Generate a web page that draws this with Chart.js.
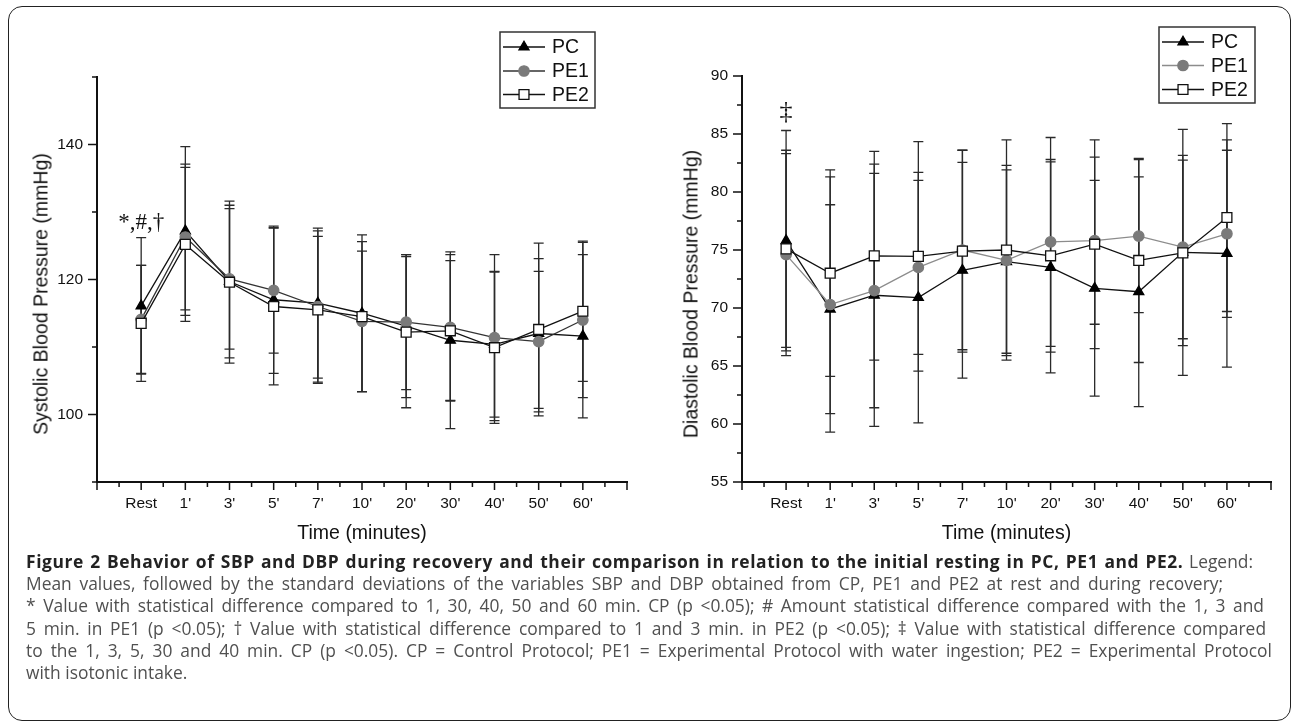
<!DOCTYPE html>
<html>
<head>
<meta charset="utf-8">
<script src="https://cdn.jsdelivr.net/npm/chart.js@4.4.0/dist/chart.umd.min.js"></script>
<style>
  body { margin: 0; background: #fff; }
  #page { position: relative; width: 1292px; height: 723px; overflow: hidden; background: #fff; }
  .frame { position: absolute; left: 8px; top: 6px; width: 1283px; height: 715px; border: 1.5px solid #222; border-radius: 14px; box-sizing: border-box; }
  .chartBox { position: absolute; top: 0; width: 646px; height: 550px; }
  .ytitle { position: absolute; font: 19.5px 'Liberation Sans', Arial, sans-serif; color: #111; white-space: nowrap; transform: translate(-50%, -50%) rotate(-90deg); }
  #caption { position: absolute; left: 26px; top: 550px; font: 17.4px 'Open Sans', sans-serif; line-height: 22.2px; color: #505050; }
  #caption div { white-space: nowrap; }
  #caption b { color: #222; letter-spacing: 0.6px; }
</style>
</head>
<body>
<div id="page">
  <div class="frame"></div>
  <div class="chartBox" style="left:0"><canvas id="sbpChart"></canvas></div>
  <div class="chartBox" style="left:646px"><canvas id="dbpChart"></canvas></div>
  <div class="ytitle" style="left:41px; top:294px">Systolic Blood Pressure (mmHg)</div>
  <div class="ytitle" style="left:691px; top:294px">Diastolic Blood Pressure (mmHg)</div>
  <div id="caption"></div>
</div>
<script>
'use strict';

// ---------------- data ----------------
const timeLabels = ['Rest', "1'", "3'", "5'", "7'", "10'", "20'", "30'", "40'", "50'", "60'"];

// systolic (mmHg) mean and standard deviation
const sbpPC = [116.1, 127.2, 119.7, 117.0, 116.5, 115.0, 113.1, 111.0, 110.4, 112.0, 111.6];
const sbpPCsd = [10.1, 12.5, 11.3, 10.9, 11.1, 11.6, 10.6, 13.1, 10.8, 11.1, 12.1];
const sbpPE1 = [114.1, 126.3, 120.1, 118.4, 116.0, 113.8, 113.7, 112.9, 111.4, 110.8, 114.0];
const sbpPE1sd = [8.0, 10.8, 10.4, 9.3, 11.2, 10.4, 10.0, 10.8, 12.3, 10.4, 11.5];
const sbpPE2 = [113.5, 125.2, 119.6, 116.0, 115.5, 114.5, 112.2, 112.4, 109.9, 112.6, 115.3];
const sbpPE2sd = [8.6, 11.4, 12.0, 11.6, 10.9, 11.1, 11.2, 10.4, 11.2, 12.8, 10.4];

// diastolic (mmHg) mean and standard deviation
const dbpPC = [75.8, 69.9, 71.1, 70.9, 73.25, 74.0, 73.5, 71.7, 71.4, 74.8, 74.7];
const dbpPCsd = [9.5, 9.0, 11.3, 10.8, 9.3, 7.9, 9.1, 9.3, 9.9, 10.6, 9.8];
const dbpPE1 = [74.6, 70.3, 71.5, 73.5, 75.0, 74.1, 75.7, 75.8, 76.2, 75.25, 76.4];
const dbpPE1sd = [8.7, 11.0, 10.1, 7.5, 8.6, 8.2, 9.0, 7.2, 6.6, 7.9, 7.2];
const dbpPE2 = [75.1, 73.0, 74.5, 74.45, 74.9, 75.0, 74.5, 75.5, 74.1, 74.75, 77.8];
const dbpPE2sd = [8.5, 8.9, 9.0, 9.9, 8.7, 9.5, 8.3, 9.0, 8.8, 8.0, 8.1];

const seriesNames = ['PC', 'PE1', 'PE2'];
const sbpTicks = [100, 120, 140];
const dbpTicks = [55, 60, 65, 70, 75, 80, 85, 90];

const captionLines = [
  '<b>Figure 2 Behavior of SBP and DBP during recovery and their comparison in relation to the initial resting in PC, PE1 and PE2.</b> Legend:',
  'Mean values, followed by the standard deviations of the variables SBP and DBP obtained from CP, PE1 and PE2 at rest and during recovery;',
  '* Value with statistical difference compared to 1, 30, 40, 50 and 60 min. CP (p &lt;0.05); # Amount statistical difference compared with the 1, 3 and',
  '5 min. in PE1 (p &lt;0.05); † Value with statistical difference compared to 1 and 3 min. in PE2 (p &lt;0.05); ‡ Value with statistical difference compared',
  'to the 1, 3, 5, 30 and 40 min. CP (p &lt;0.05). CP = Control Protocol; PE1 = Experimental Protocol with water ingestion; PE2 = Experimental Protocol',
  'with isotonic intake.'
];
// right edge of each caption line (null = leave natural)
const captionEnds = [1253, 1223, 1264, 1266, 1272, null];

// ---------------- helpers ----------------
const AXIS_FONT = "'Liberation Sans', Arial, sans-serif";

function toPoints(arr) {
  return arr.map((v, i) => ({ x: i, y: v }));
}

function drawMarker(ctx, style, x, y, r) {
  ctx.beginPath();
  if (style === 'triangle') {
    let rad = 0;
    for (let k = 0; k < 3; k++) {
      const px = x + Math.sin(rad) * r, py = y - Math.cos(rad) * r;
      if (k === 0) ctx.moveTo(px, py); else ctx.lineTo(px, py);
      rad += Math.PI * 2 / 3;
    }
    ctx.closePath();
  } else if (style === 'rect') {
    const s = Math.SQRT1_2 * r;
    ctx.rect(x - s, y - s, 2 * s, 2 * s);
  } else {
    ctx.arc(x, y, r, 0, Math.PI * 2);
  }
  ctx.fill();
  ctx.stroke();
}

// error bars, drawn under the lines
const errorBarPlugin = {
  id: 'errorBars',
  beforeDatasetsDraw(chart) {
    const ctx = chart.ctx;
    const xs = chart.scales.x, ys = chart.scales.y;
    ctx.save();
    ctx.strokeStyle = '#2a2a2a';
    ctx.lineWidth = 1.3;
    for (const ds of chart.data.datasets) {
      ds.sd.forEach((sd, i) => {
        const m = ds.data[i].y;
        const px = xs.getPixelForValue(i);
        const top = ys.getPixelForValue(m + sd);
        const bot = ys.getPixelForValue(m - sd);
        ctx.beginPath();
        ctx.moveTo(px, top); ctx.lineTo(px, bot);
        ctx.moveTo(px - 5, top); ctx.lineTo(px + 5, top);
        ctx.moveTo(px - 5, bot); ctx.lineTo(px + 5, bot);
        ctx.stroke();
      });
    }
    ctx.restore();
  }
};

// major / minor tick marks on both axes
const tickMarkPlugin = {
  id: 'tickMarks',
  afterDraw(chart, args, opts) {
    const { ctx, chartArea } = chart;
    const xs = chart.scales.x, ys = chart.scales.y;
    ctx.save();
    ctx.strokeStyle = '#111';
    ctx.lineWidth = 1.5;
    ctx.beginPath();
    for (let v = xs.min; v <= xs.max + 1e-9; v += 0.5) {
      const px = xs.getPixelForValue(v);
      const len = Number.isInteger(v) ? 8 : 5;
      ctx.moveTo(px, chartArea.bottom); ctx.lineTo(px, chartArea.bottom + len);
    }
    for (let v = ys.min; v <= ys.max + 1e-9; v += opts.minor) {
      const py = ys.getPixelForValue(v);
      const len = opts.labels.includes(v) ? 9 : 5;
      ctx.moveTo(chartArea.left, py); ctx.lineTo(chartArea.left - len, py);
    }
    ctx.stroke();
    ctx.restore();
  }
};

// significance marks above the resting point
const markPlugin = {
  id: 'restMarks',
  afterDatasetsDraw(chart, args, opts) {
    const ctx = chart.ctx;
    const xs = chart.scales.x, ys = chart.scales.y;
    let topVal = -Infinity;
    for (const ds of chart.data.datasets) topVal = Math.max(topVal, ds.data[0].y + ds.sd[0]);
    ctx.save();
    ctx.fillStyle = '#111';
    ctx.font = opts.font;
    ctx.textAlign = 'center';
    ctx.textBaseline = 'alphabetic';
    ctx.fillText(opts.text, xs.getPixelForValue(0), ys.getPixelForValue(topVal) - opts.gap);
    ctx.restore();
  }
};

// boxed legend: line - marker - line, then the name
const boxLegendPlugin = {
  id: 'boxLegend',
  afterDraw(chart, args, opts) {
    const ctx = chart.ctx;
    const { x, y, w, h } = opts;
    ctx.save();
    ctx.fillStyle = '#fff';
    ctx.fillRect(x, y, w, h);
    ctx.strokeStyle = '#333';
    ctx.lineWidth = 1.5;
    ctx.strokeRect(x, y, w, h);
    chart.data.datasets.forEach((ds, i) => {
      const ry = y + opts.rows[i];
      ctx.strokeStyle = ds.borderColor;
      ctx.lineWidth = 1.3;
      ctx.beginPath();
      ctx.moveTo(x + 3, ry); ctx.lineTo(x + 45, ry);
      ctx.stroke();
      ctx.fillStyle = ds.pointBackgroundColor;
      ctx.strokeStyle = ds.pointBorderColor;
      ctx.lineWidth = 1.3;
      drawMarker(ctx, ds.pointStyle, x + 24, ry, ds.pointRadius);
      ctx.fillStyle = '#111';
      ctx.font = '19.5px ' + AXIS_FONT;
      ctx.textBaseline = 'middle';
      ctx.textAlign = 'left';
      ctx.fillText(ds.label, x + 52, ry + 1);
    });
    ctx.restore();
  }
};

function makeDatasets(means, sds, pe1Line) {
  return [
    { label: seriesNames[0], data: toPoints(means[0]), sd: sds[0], order: 2,
      borderColor: '#111', pointStyle: 'triangle', pointRadius: 5.8,
      pointBackgroundColor: '#000', pointBorderColor: '#000' },
    { label: seriesNames[1], data: toPoints(means[1]), sd: sds[1], order: 1,
      borderColor: pe1Line, pointStyle: 'circle', pointRadius: 5.2,
      pointBackgroundColor: '#7a7a7a', pointBorderColor: '#7a7a7a' },
    { label: seriesNames[2], data: toPoints(means[2]), sd: sds[2], order: 0,
      borderColor: '#111', pointStyle: 'rect', pointRadius: 7,
      pointBackgroundColor: '#fff', pointBorderColor: '#111' }
  ].map(ds => Object.assign(ds, { borderWidth: 1.3, pointBorderWidth: 1.3, pointHoverRadius: ds.pointRadius, tension: 0 }));
}

function makeChart(canvasId, cfg) {
  return new Chart(document.getElementById(canvasId), {
    type: 'line',
    data: { datasets: makeDatasets(cfg.means, cfg.sds, cfg.pe1Line) },
    options: {
      responsive: true,
      maintainAspectRatio: false,
      animation: false,
      devicePixelRatio: 1,
      layout: { padding: { top: cfg.top, left: 0, right: cfg.right, bottom: 0 } },
      plugins: {
        legend: { display: false },
        tooltip: { enabled: false },
        tickMarks: { minor: cfg.minor, labels: cfg.labels },
        restMarks: cfg.mark,
        boxLegend: cfg.legend
      },
      scales: {
        x: {
          type: 'linear',
          min: -1,
          max: timeLabels.length,
          grid: { display: false, drawTicks: false },
          border: { display: true, color: '#111', width: 2 },
          ticks: {
            stepSize: 1,
            autoSkip: false,
            maxRotation: 0,
            padding: 12,
            color: '#111',
            font: { family: AXIS_FONT, size: 15.5 },
            callback: v => (Number.isInteger(v) && v >= 0 && v < timeLabels.length) ? timeLabels[v] : ''
          },
          title: {
            display: true,
            text: 'Time (minutes)',
            color: '#111',
            font: { family: AXIS_FONT, size: 19.5 },
            padding: { top: 0, bottom: 5 }
          },
          afterFit: s => { s.height = 68; }
        },
        y: {
          min: cfg.min,
          max: cfg.max,
          grid: { display: false, drawTicks: false },
          border: { display: true, color: '#111', width: 2 },
          ticks: {
            stepSize: cfg.minor,
            autoSkip: false,
            padding: 14,
            color: '#111',
            font: { family: AXIS_FONT, size: 15.5 },
            callback: v => cfg.labels.includes(v) ? v : ''
          },
          afterFit: s => { s.width = cfg.axisX; }
        }
      }
    },
    plugins: [errorBarPlugin, tickMarkPlugin, markPlugin, boxLegendPlugin]
  });
}

makeChart('sbpChart', {
  means: [sbpPC, sbpPE1, sbpPE2],
  sds: [sbpPCsd, sbpPE1sd, sbpPE2sd],
  pe1Line: '#333',
  min: 90, max: 150, minor: 10, labels: sbpTicks,
  top: 77, right: 19, axisX: 97,
  mark: { text: '*,#,\u2020', font: "23px 'Liberation Serif', 'Times New Roman', serif", gap: 9 },
  legend: { x: 500, y: 32, w: 95, h: 76, rows: [15, 39, 62.5] }
});

makeChart('dbpChart', {
  means: [dbpPC, dbpPE1, dbpPE2],
  sds: [dbpPCsd, dbpPE1sd, dbpPE2sd],
  pe1Line: '#8c8c8c',
  min: 55, max: 90, minor: 2.5, labels: dbpTicks,
  top: 76, right: 21, axisX: 96,
  mark: { text: '\u2021', font: "26px 'Liberation Serif', 'Times New Roman', serif", gap: 12 },
  legend: { x: 513, y: 27, w: 96, h: 76, rows: [15, 38.5, 62.5] }
});

// ---------------- caption ----------------
const captionElem = document.getElementById('caption');
const captionLeft = 26;
captionLines.forEach((html, i) => {
  const lineElem = document.createElement('div');
  const spanElem = document.createElement('span');
  spanElem.innerHTML = html;
  lineElem.appendChild(spanElem);
  captionElem.appendChild(lineElem);
  const end = captionEnds[i];
  if (end) {
    const natural = spanElem.getBoundingClientRect().width;
    const spaces = (spanElem.textContent.match(/ /g) || []).length;
    const extra = (end - captionLeft - natural) / spaces;
    spanElem.style.wordSpacing = extra.toFixed(2) + 'px';
  }
});
</script>
</body>
</html>
